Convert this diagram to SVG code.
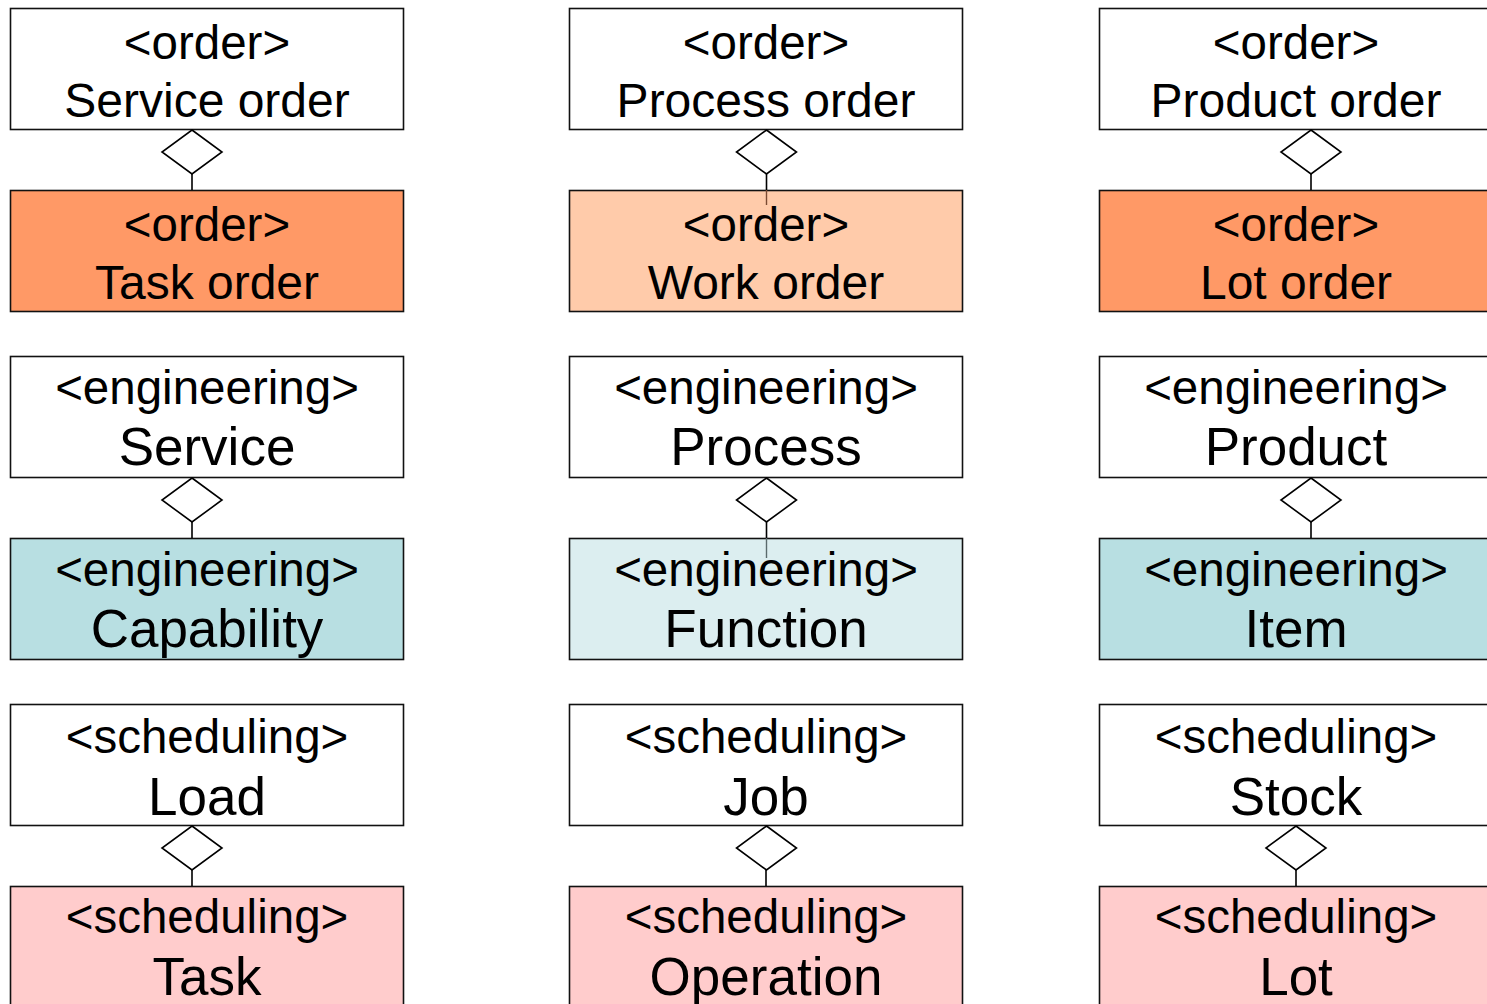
<svg xmlns="http://www.w3.org/2000/svg" width="1487" height="1004" viewBox="0 0 1487 1004">
<style>
.box{stroke:#111;stroke-width:1.6}
.w{fill:#fff}
.or{fill:#FF9966}
.lor{fill:#FFCBAA}
.cy{fill:#B8DFE2}
.lcy{fill:#DCEEF0}
.pk{fill:#FFCCCC}
text{font-family:"Liberation Sans",Arial,sans-serif;text-anchor:middle;fill:#000}
.s{font-size:47.5px}
.o{font-size:48px}
.n{font-size:53px}
.dia{fill:#fff;stroke:#000;stroke-width:1.6}
.ln{stroke:#000;stroke-width:1.6;fill:none}
</style>
<rect width="1487" height="1004" fill="#fff"/>
<!-- row 1 -->
<g id="service-order"><rect class="box w" x="10.5" y="8.5" width="393" height="121"/><text class="s" x="207" y="59">&lt;order&gt;</text><text class="o" x="207" y="117">Service order</text></g>
<g id="task-order"><rect class="box or" x="10.5" y="190.5" width="393" height="121"/><text class="s" x="207" y="241">&lt;order&gt;</text><text class="o" x="207" y="299">Task order</text></g>
<g id="process-order"><rect class="box w" x="569.5" y="8.5" width="393" height="121"/><text class="s" x="766" y="59">&lt;order&gt;</text><text class="o" x="766" y="117">Process order</text></g>
<g id="work-order"><rect class="box lor" x="569.5" y="190.5" width="393" height="121"/><text class="s" x="766" y="241">&lt;order&gt;</text><text class="o" x="766" y="299">Work order</text></g>
<g id="product-order"><rect class="box w" x="1099.5" y="8.5" width="393" height="121"/><text class="s" x="1296" y="59">&lt;order&gt;</text><text class="o" x="1296" y="117">Product order</text></g>
<g id="lot-order"><rect class="box or" x="1099.5" y="190.5" width="393" height="121"/><text class="s" x="1296" y="241">&lt;order&gt;</text><text class="o" x="1296" y="299">Lot order</text></g>
<!-- row 2 -->
<g id="service"><rect class="box w" x="10.5" y="356.5" width="393" height="121"/><text class="s" x="207" y="403.5">&lt;engineering&gt;</text><text class="n" x="207" y="465">Service</text></g>
<g id="capability"><rect class="box cy" x="10.5" y="538.5" width="393" height="121"/><text class="s" x="207" y="585.5">&lt;engineering&gt;</text><text class="n" x="207" y="647">Capability</text></g>
<g id="process"><rect class="box w" x="569.5" y="356.5" width="393" height="121"/><text class="s" x="766" y="403.5">&lt;engineering&gt;</text><text class="n" x="766" y="465">Process</text></g>
<g id="function"><rect class="box lcy" x="569.5" y="538.5" width="393" height="121"/><text class="s" x="766" y="585.5">&lt;engineering&gt;</text><text class="n" x="766" y="647">Function</text></g>
<g id="product"><rect class="box w" x="1099.5" y="356.5" width="393" height="121"/><text class="s" x="1296" y="403.5">&lt;engineering&gt;</text><text class="n" x="1296" y="465">Product</text></g>
<g id="item"><rect class="box cy" x="1099.5" y="538.5" width="393" height="121"/><text class="s" x="1296" y="585.5">&lt;engineering&gt;</text><text class="n" x="1296" y="647">Item</text></g>
<!-- row 3 -->
<g id="load"><rect class="box w" x="10.5" y="704.5" width="393" height="121"/><text class="s" x="207" y="753">&lt;scheduling&gt;</text><text class="n" x="207" y="815">Load</text></g>
<g id="task"><rect class="box pk" x="10.5" y="886.5" width="393" height="121"/><text class="s" x="207" y="933">&lt;scheduling&gt;</text><text class="n" x="207" y="995">Task</text></g>
<g id="job"><rect class="box w" x="569.5" y="704.5" width="393" height="121"/><text class="s" x="766" y="753">&lt;scheduling&gt;</text><text class="n" x="766" y="815">Job</text></g>
<g id="operation"><rect class="box pk" x="569.5" y="886.5" width="393" height="121"/><text class="s" x="766" y="933">&lt;scheduling&gt;</text><text class="n" x="766" y="995">Operation</text></g>
<g id="stock"><rect class="box w" x="1099.5" y="704.5" width="393" height="121"/><text class="s" x="1296" y="753">&lt;scheduling&gt;</text><text class="n" x="1296" y="815">Stock</text></g>
<g id="lot"><rect class="box pk" x="1099.5" y="886.5" width="393" height="121"/><text class="s" x="1296" y="933">&lt;scheduling&gt;</text><text class="n" x="1296" y="995">Lot</text></g>
<!-- connectors -->
<g id="connectors">
<path class="ln" d="M192 174V190M1311 174V190M192 522V538M1311 522V538M192 870V886M766 870V886M1296 870V886"/>
<path class="ln" d="M766.5 174V190"/>
<path d="M766.5 190V205" stroke="#7a4a32" stroke-width="1.4"/>
<path class="ln" d="M766.5 522V538"/>
<path d="M766.5 538V558" stroke="#5a6a6c" stroke-width="1.4"/>
<polygon class="dia" points="192,130 222,152 192,174 162,152"/>
<polygon class="dia" points="766.5,130 796.5,152 766.5,174 736.5,152"/>
<polygon class="dia" points="1311,130 1341,152 1311,174 1281,152"/>
<polygon class="dia" points="192,478 222,500 192,522 162,500"/>
<polygon class="dia" points="766.5,478 796.5,500 766.5,522 736.5,500"/>
<polygon class="dia" points="1311,478 1341,500 1311,522 1281,500"/>
<polygon class="dia" points="192,826 222,848 192,870 162,848"/>
<polygon class="dia" points="766.5,826 796.5,848 766.5,870 736.5,848"/>
<polygon class="dia" points="1296,826 1326,848 1296,870 1266,848"/>
</g>
</svg>
